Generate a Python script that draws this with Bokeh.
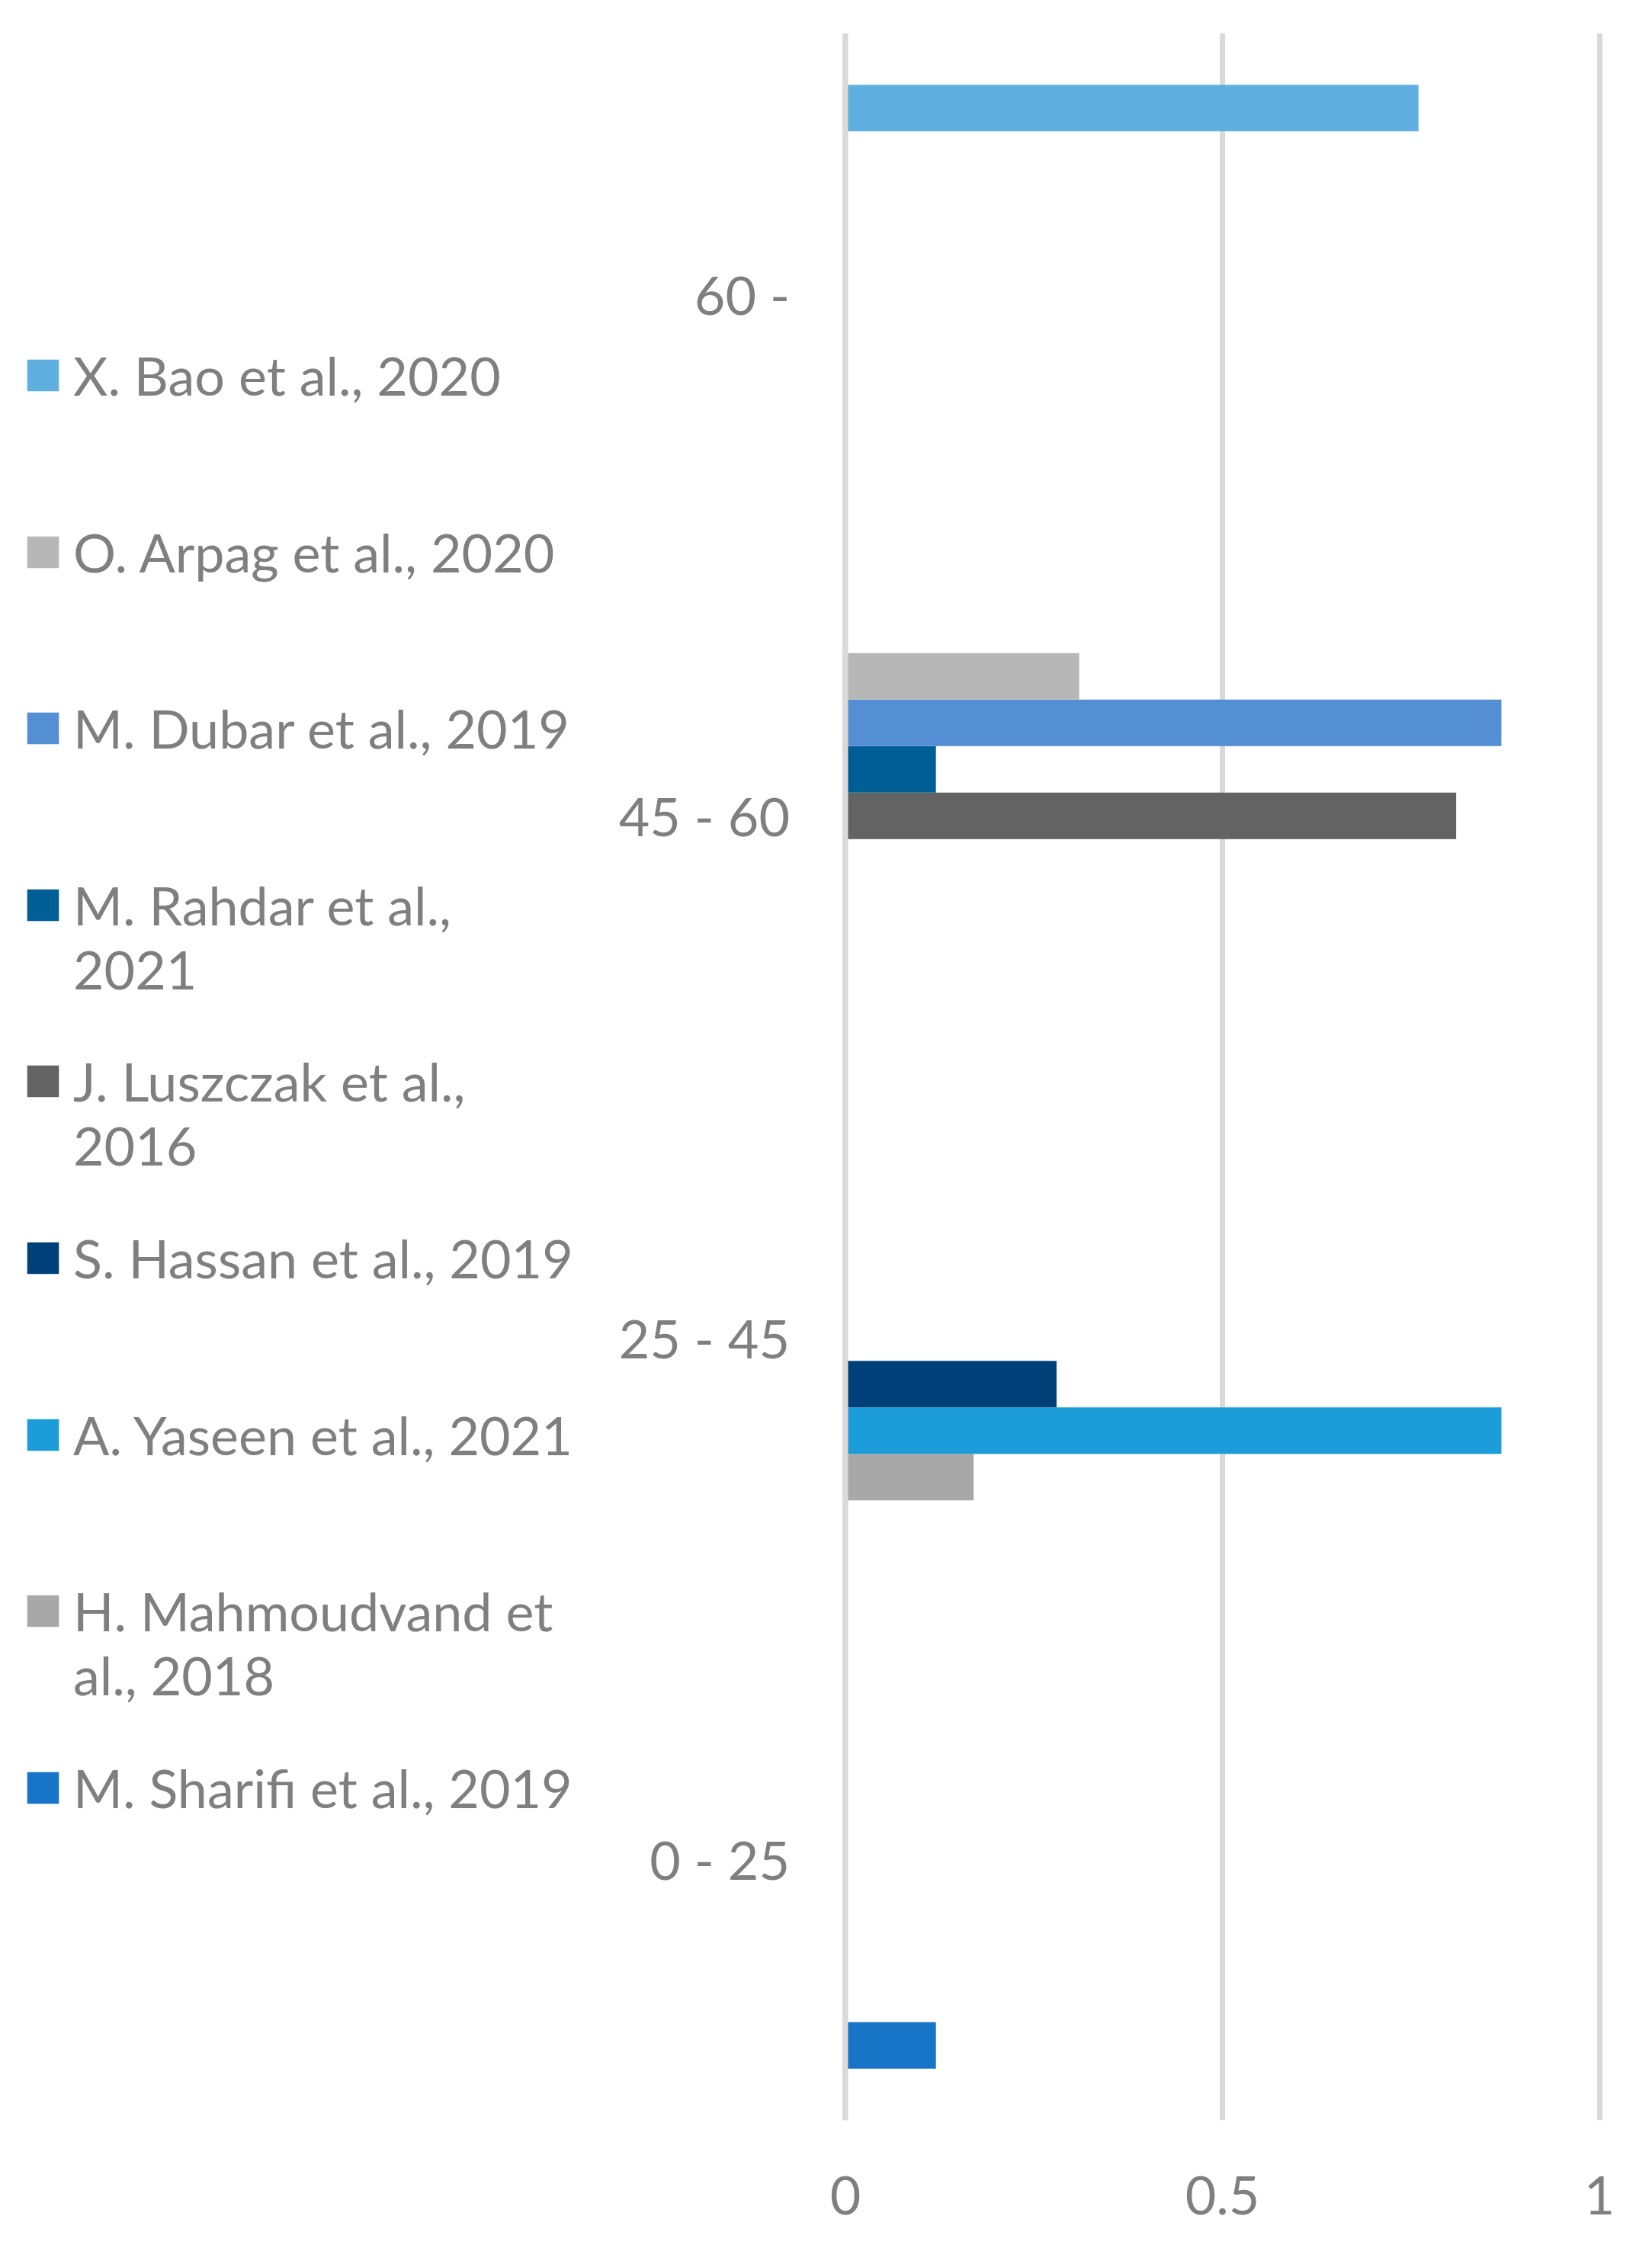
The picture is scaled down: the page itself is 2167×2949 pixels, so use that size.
from bokeh.plotting import figure
from bokeh.models import (ColumnDataSource, FactorRange, Range1d, FixedTicker,
                          NumeralTickFormatter, Legend, LegendItem, Span, LabelSet)
from bokeh.core.properties import value
from bokeh.transform import dodge
from bokeh.embed import file_html
from bokeh.resources import INLINE

# age groups, bottom to top
categories = ["0 - 25", "25 - 45", "45 - 60", "60 -"]

# series in Excel order (first series drawn lowest in each group)
# (leading newline keeps the swatch level with the first line of wrapped names)
names = [
    "M. Sharifi et al., 2019",
    "\nH. Mahmoudvand et\nal., 2018",
    "A. Yaseen et al., 2021",
    "S. Hassan et al., 2019",
    "\nJ. Luszczak et al.,\n2016",
    "\nM. Rahdar et al.,\n2021",
    "M. Dubar et al., 2019",
    "O. Arpag et al., 2020",
    "X. Bao et al., 2020",
]
sharifi = [0.12, 0, 0, 0]
mahmoudvand = [0, 0.17, 0, 0]
yaseen = [0, 0.87, 0, 0]
hassan = [0, 0.28, 0, 0]
luszczak = [0, 0, 0.81, 0]
rahdar = [0, 0, 0.12, 0]
dubar = [0, 0, 0.87, 0]
arpag = [0, 0, 0.31, 0]
bao = [0, 0, 0, 0.76]
values = [sharifi, mahmoudvand, yaseen, hassan, luszczak, rahdar, dubar, arpag, bao]

colors = ["#1874c7", "#a8a8a8", "#1c9cd8", "#004078", "#636363",
          "#005e96", "#548fd3", "#b7b7b7", "#5fb0e0"]

x_ticks = [0, 0.5, 1]

FONT = "Lato"
TXT = "#7f7f7f"
GRID = "#d9d9d9"

FRAME_H = 2738

# the frame spans the whole width so the legend can sit left of the bars
p = figure(width=2151, height=2933, output_backend="svg", toolbar_location=None,
           y_range=FactorRange(factors=categories, range_padding=0, factor_padding=0),
           x_range=Range1d(-1.1208, 1.0106), y_axis_location=None,
           min_border_left=0, min_border_right=43,
           min_border_top=43, min_border_bottom=152)
p.outline_line_color = None
p.background_fill_color = "white"

slot = 0.0891
bar_h = 0.0891
items = []
for i, (name, vals, col) in enumerate(zip(names, values, colors)):
    src = ColumnDataSource(dict(cat=categories, val=vals))
    r = p.hbar(y=dodge("cat", (i - 4) * slot, range=p.y_range), left=0, right="val",
               height=bar_h, fill_color=col, line_color=None, source=src)
    items.append(LegendItem(label=name, renderers=[r]))

# Excel-style category axis line at zero
p.add_layout(Span(location=0, dimension="height", line_color=GRID,
                  line_width=7, level="overlay"))

# category labels, right aligned against the zero line
cat_src = ColumnDataSource(dict(cat=categories, x=[0] * len(categories)))
p.add_layout(LabelSet(x="x", y="cat", text="cat", source=cat_src, x_offset=-73,
                      text_align="right", text_baseline="middle",
                      text_font=value(FONT), text_font_size="70px", text_color=TXT))

p.ygrid.grid_line_color = None
p.xgrid.grid_line_color = GRID
p.xgrid.grid_line_width = 7
p.xgrid.ticker = FixedTicker(ticks=x_ticks)

p.xaxis.ticker = FixedTicker(ticks=x_ticks)
p.xaxis.formatter = NumeralTickFormatter(format="0.[0]")
p.xaxis.axis_line_color = None
p.xaxis.major_tick_line_color = None
p.xaxis.minor_tick_line_color = None
p.xaxis.major_label_standoff = 67
p.xaxis.major_label_text_font = FONT
p.xaxis.major_label_text_font_size = "70px"
p.xaxis.major_label_text_color = TXT

# one legend box per entry so wrapped names keep an even pitch
first_center = 449   # px below frame top
pitch = 231.6
box_h = 260
for k, item in enumerate(reversed(items)):
    y = FRAME_H - (first_center + k * pitch) - box_h / 2
    p.add_layout(Legend(items=[item], location=(30, round(y)),
                        orientation="vertical", glyph_width=52, glyph_height=52,
                        label_standoff=14, label_height=box_h, spacing=0,
                        padding=0, margin=0, border_line_color=None,
                        background_fill_alpha=0,
                        label_text_font=FONT, label_text_font_size="70px",
                        label_text_color=TXT))

open("out.html", "w").write(file_html(p, INLINE))
